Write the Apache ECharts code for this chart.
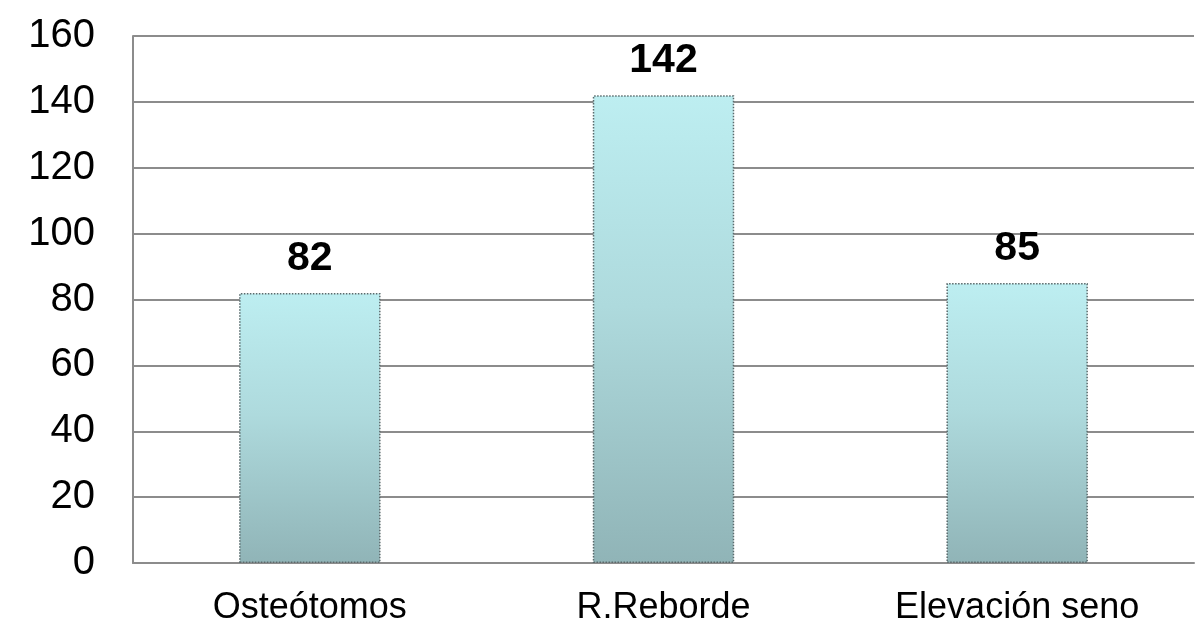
<!DOCTYPE html>
<html>
<head>
<meta charset="utf-8">
<script src="https://cdn.jsdelivr.net/npm/echarts@6/dist/echarts.min.js"></script>
<style>
html,body{margin:0;padding:0;background:#fff;}
#main{width:1199px;height:626px;}
</style>
</head>
<body>
<div id="main"></div>
<script>
var categories = ['Osteótomos', 'R.Reborde', 'Elevación seno'];
var values = [82, 142, 85];
var yTicks = [0, 20, 40, 60, 80, 100, 120, 140, 160];

var myChart = echarts.init(document.getElementById('main'));
var option = {
  animation: false,
  grid: {
    left: 133,
    right: 5,
    top: 36,
    bottom: 63
  },
  xAxis: {
    type: 'category',
    data: categories,
    axisLine: {lineStyle: {color: '#8c8c8c', width: 2}},
    axisTick: {show: false},
    axisLabel: {
      color: '#000',
      fontSize: 36,
      fontFamily: 'Liberation Sans, Arial',
      margin: 27
    }
  },
  yAxis: {
    type: 'value',
    min: yTicks[0],
    max: yTicks[yTicks.length - 1],
    interval: 20,
    axisLine: {show: true, lineStyle: {color: '#8c8c8c', width: 2}},
    axisTick: {show: false},
    splitLine: {lineStyle: {color: '#8c8c8c', width: 2}},
    axisLabel: {
      color: '#000',
      fontSize: 40,
      fontFamily: 'Liberation Sans, Arial',
      margin: 38
    }
  },
  series: [
    {
      type: 'bar',
      data: values,
      barWidth: '40%',
      itemStyle: {
        color: new echarts.graphic.LinearGradient(0, 0, 0, 1, [
          {offset: 0, color: '#bdeef1'},
          {offset: 0.45, color: '#aedadd'},
          {offset: 1, color: '#90b4b7'}
        ]),
        borderColor: '#5a6a6c',
        borderWidth: 1.5,
        borderType: 'dotted'
      },
      label: {
        show: true,
        position: 'top',
        distance: 14,
        color: '#000',
        fontSize: 41,
        fontWeight: 'bold',
        fontFamily: 'Liberation Sans, Arial'
      }
    }
  ]
};
myChart.setOption(option);
</script>
</body>
</html>
